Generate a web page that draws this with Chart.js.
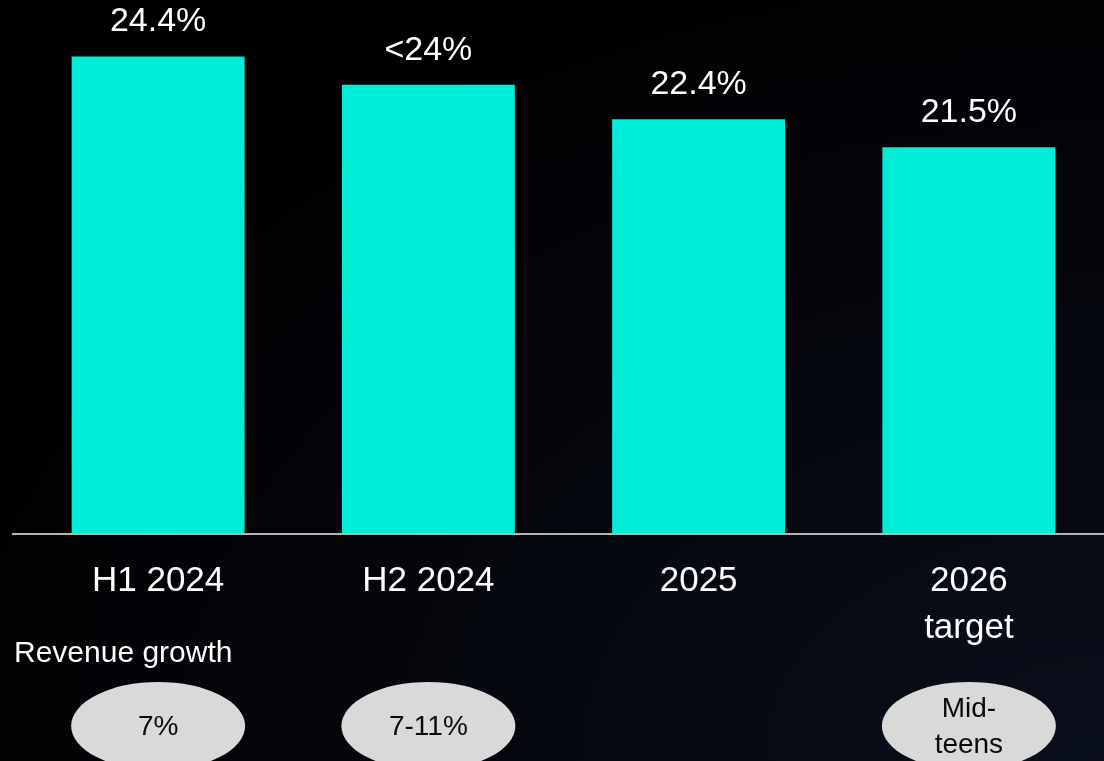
<!DOCTYPE html>
<html>
<head>
<meta charset="utf-8">
<script src="https://cdn.jsdelivr.net/npm/chart.js@4/dist/chart.umd.min.js"></script>
<style>
  html, body { margin: 0; padding: 0; background: #000; overflow: hidden; }
  #wrap {
    width: 1104px; height: 761px;
    background: radial-gradient(ellipse at 100% 100%, #0a0f1c 0%, #04060c 45%, #000 80%);
  }
</style>
</head>
<body>
<div id="wrap"><canvas id="marginChart" width="1104" height="761"></canvas></div>
<script>
// Данные графика
const periods = [['H1 2024'], ['H2 2024'], ['2025'], ['2026', 'target']];
const marginValues = [24.4, 23.5, 22.4, 21.5];
const marginLabels = ['24.4%', '<24%', '22.4%', '21.5%'];
const growthTitle = 'Revenue growth';
const growthLabels = [['7%'], ['7-11%'], null, ['Mid-', 'teens']];

const FONT = '"Liberation Sans", Arial, sans-serif';

// Подписи над столбцами, ось и овалы с ростом выручки
const annotations = {
    id: 'annotations',
    afterDatasetsDraw(chart) {
        const ctx = chart.ctx;
        const meta = chart.getDatasetMeta(0);
        const y = chart.scales.y;

        // базовая линия
        ctx.save();
        ctx.strokeStyle = '#b4b4b4';
        ctx.lineWidth = 2;
        ctx.beginPath();
        ctx.moveTo(12, y.bottom + 1);
        ctx.lineTo(chart.width, y.bottom + 1);
        ctx.stroke();

        // значения над столбцами
        ctx.fillStyle = '#ffffff';
        ctx.font = '34px ' + FONT;
        ctx.textAlign = 'center';
        ctx.textBaseline = 'alphabetic';
        meta.data.forEach((bar, i) => {
            ctx.fillText(marginLabels[i], bar.x, bar.y - 25);
        });
        ctx.restore();
    },
    afterDraw(chart) {
        const ctx = chart.ctx;
        const x = chart.scales.x;
        ctx.save();
        ctx.fillStyle = '#ffffff';
        ctx.font = '30px ' + FONT;
        ctx.textAlign = 'left';
        ctx.textBaseline = 'alphabetic';
        ctx.fillText(growthTitle, 14, 662);

        growthLabels.forEach((lines, i) => {
            if (!lines) return;
            const cx = x.getPixelForValue(i);
            const cy = 726;
            ctx.fillStyle = '#d9d9d9';
            ctx.beginPath();
            ctx.ellipse(cx, cy, 87, 44, 0, 0, Math.PI * 2);
            ctx.fill();
            ctx.fillStyle = '#0a0a0a';
            ctx.font = '28px ' + FONT;
            ctx.textAlign = 'center';
            ctx.textBaseline = 'middle';
            const lh = 36;
            const y0 = cy - (lines.length - 1) * lh / 2 + 1;
            lines.forEach((t, k) => ctx.fillText(t, cx, y0 + k * lh));
        });
        ctx.restore();
    }
};

new Chart(document.getElementById('marginChart').getContext('2d'), {
    type: 'bar',
    data: {
        labels: periods,
        datasets: [{
            data: marginValues,
            backgroundColor: '#00edd8',
            borderWidth: 0,
            barPercentage: 0.64,
            categoryPercentage: 1
        }]
    },
    options: {
        responsive: false,
        animation: false,
        layout: { padding: { left: 23, right: 0, top: 0, bottom: 0 } },
        plugins: {
            legend: { display: false },
            tooltip: { enabled: false }
        },
        scales: {
            y: {
                display: false,
                min: 9.2,
                max: 26.2
            },
            x: {
                grid: { display: false, drawTicks: false },
                border: { display: false },
                afterFit(scale) { scale.height = 228; },
                ticks: {
                    color: '#ffffff',
                    padding: 25,
                    font: { family: FONT, size: 35, lineHeight: 1.34 }
                }
            }
        }
    },
    plugins: [annotations]
});
</script>
</body>
</html>
